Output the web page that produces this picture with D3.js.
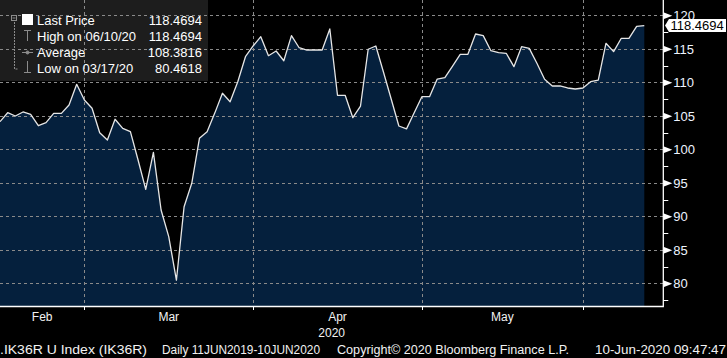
<!DOCTYPE html>
<html><head><meta charset="utf-8">
<script src="https://cdn.jsdelivr.net/npm/d3@7"></script>
<style>html,body{margin:0;padding:0;background:#000;overflow:hidden}svg{display:block}</style>
</head><body>
<script>
// ---- data ----
const startDate = "2020-02-13";
const endDate = "2020-06-10";
const lastPrice = [104.12,105.46,104.97,105.57,105.22,103.52,103.97,105.37,105.37,106.61,109.70,107.36,
  106.12,102.48,101.39,104.48,103.13,102.63,98.40,94.03,99.55,90.94,86.96,80.4618,91.43,94.93,101.64,102.63,105.40,108.36,107.10,110.09,113.82,115.42,
  116.81,113.97,114.67,113.22,116.96,115.16,114.82,114.82,114.82,117.96,108.06,108.06,104.72,106.46,114.93,115.42,111.50,107.50,103.48,103.05,105.45,107.85,
  107.85,110.49,110.69,112.43,114.18,114.18,117.21,116.96,114.72,114.42,114.33,112.33,115.31,115.07,112.84,110.45,109.45,109.45,109.15,109.00,109.15,
  110.09,110.34,115.82,114.57,116.57,116.57,118.35,118.4694];
const monthLabels = ["Feb","Mar","Apr","May"];
const yearLabel = "2020";
const yTicks = [80,85,90,95,100,105,110,115,120];
const yMinorTicks = [77.5,82.5,87.5,92.5,97.5,102.5,107.5,112.5,117.5,122.5];
const legendLabels = ["Last Price","High on 06/10/20","Average","Low on 03/17/20"];
const legendValues = ["118.4694","118.4694","108.3816","80.4618"];
const lastLabel = "118.4694";
const footer = [".IK36R U Index (IK36R)","Daily 11JUN2019-10JUN2020","Copyright\u00A9 2020 Bloomberg Finance L.P.","10-Jun-2020 09:47:47"];

// ---- layout ----
const W = 727, H = 358;
const plotR = 663.3, plotB = 306;
const FONT = "'Liberation Sans', Arial, sans-serif";

const parse = d3.utcParse("%Y-%m-%d");
const dates = d3.utcDay.range(parse(startDate), d3.utcDay.offset(parse(endDate), 1))
  .filter(d => d.getUTCDay() !== 0 && d.getUTCDay() !== 6);
const data = dates.map((d, i) => ({date: d, i, v: lastPrice[i]}));

const x = d3.scaleLinear().domain([0, data.length - 1]).range([0, 644.3]);
const y = d3.scaleLinear().domain([80, 120]).range([283.3, 15.3]);

// month-end boundaries (last weekday of each month)
const bounds = [];
for (let i = 0; i < data.length - 1; i++) {
  if (dates[i].getUTCMonth() !== dates[i + 1].getUTCMonth()) bounds.push(i);
}

const svg = d3.select("body").append("svg").attr("width", W).attr("height", H);
svg.append("rect").attr("width", W).attr("height", H).attr("fill", "#000");

// legend box (under gridlines)
svg.append("rect").attr("x", 0).attr("y", 0).attr("width", 208).attr("height", 81)
  .attr("fill", "#1d1d1d");

// area
const area = d3.area().x(d => x(d.i)).y0(plotB).y1(d => y(d.v));
svg.append("path").datum(data).attr("d", area).attr("fill", "#05203d");

// gridlines
const grid = svg.append("g").attr("stroke", "#8a8a8a").attr("stroke-width", 1).attr("stroke-dasharray", "3,3");
grid.selectAll("line.h").data(yTicks).join("line")
  .attr("x1", 0).attr("x2", plotR).attr("y1", d => Math.round(y(d)) + 0.5).attr("y2", d => Math.round(y(d)) + 0.5);
grid.selectAll("line.v").data(bounds).join("line")
  .attr("y1", 0).attr("y2", plotB).attr("x1", d => Math.round(x(d)) + 0.5).attr("x2", d => Math.round(x(d)) + 0.5);

// line
const line = d3.line().x(d => x(d.i)).y(d => y(d.v));
svg.append("path").datum(data).attr("d", line).attr("fill", "none")
  .attr("stroke", "#e6e6e6").attr("stroke-width", 1.3).attr("stroke-linejoin", "round");

// axes lines
svg.append("path").attr("d", `M0,${plotB + 0.5}H${plotR}V0`).attr("fill", "none")
  .attr("stroke", "#fff").attr("stroke-width", 1.3);

// right axis
const yAxis = d3.axisRight(y).tickValues(yTicks).tickSize(0).tickPadding(10);
const ya = svg.append("g").attr("transform", `translate(${plotR},0)`).call(yAxis);
ya.select(".domain").remove();
ya.selectAll("text").attr("fill", "#eef4ff").attr("font-family", FONT).attr("font-size", 13).attr("dy", "0.36em");
ya.selectAll(".tick").append("path").attr("d", "M0,-3.5L9,0L0,3.5Z").attr("fill", "#fff");
svg.append("g").selectAll("line").data(yMinorTicks).join("line")
  .attr("x1", plotR).attr("x2", plotR + 5)
  .attr("y1", d => Math.round(y(d)) + 0.5).attr("y2", d => Math.round(y(d)) + 0.5)
  .attr("stroke", "#fff").attr("stroke-width", 1);

// bottom ticks at month boundaries
svg.append("g").selectAll("line").data(bounds).join("line")
  .attr("x1", d => Math.round(x(d)) + 0.5).attr("x2", d => Math.round(x(d)) + 0.5)
  .attr("y1", plotB).attr("y2", plotB + 4).attr("stroke", "#fff");

// month labels centred between boundaries
const edges = [0].concat(bounds.map(b => x(b)));
svg.append("g").selectAll("text").data(monthLabels).join("text")
  .attr("x", (d, k) => (edges[k] + edges[k + 1]) / 2).attr("y", 321)
  .attr("text-anchor", "middle").attr("fill", "#f2f2f2")
  .attr("font-family", FONT).attr("font-size", 12).text(d => d);
svg.append("text").attr("x", plotR / 2).attr("y", 336.5).attr("text-anchor", "middle")
  .attr("fill", "#f2f2f2").attr("font-family", FONT).attr("font-size", 12).text(yearLabel);

// last price tag
const ly = y(lastPrice[lastPrice.length - 1]);
svg.append("path").attr("d", `M665,${ly}L669,${ly - 6.5}H726V${ly + 6.5}H669Z`).attr("fill", "#fff");
svg.append("text").attr("x", 670.5).attr("y", ly).attr("dy", "0.36em").attr("fill", "#000")
  .attr("font-family", FONT).attr("font-size", 13).text(lastLabel);

// legend
const lg = svg.append("g");
const rowsY = [25, 41, 57, 73];
lg.selectAll("text.l").data(legendLabels).join("text")
  .attr("x", 37).attr("y", (d, k) => rowsY[k]).attr("fill", "#fff")
  .attr("font-family", FONT).attr("font-size", 13).text(d => d);
lg.selectAll("text.v").data(legendValues).join("text")
  .attr("x", 202).attr("y", (d, k) => rowsY[k]).attr("text-anchor", "end").attr("fill", "#fff")
  .attr("font-family", FONT).attr("font-size", 13).text(d => d);
// tree icons
const ic = lg.append("g").attr("stroke", "#8c8c8c").attr("fill", "none").attr("stroke-width", 1);
ic.append("rect").attr("x", 11.5).attr("y", 15.5).attr("width", 5).attr("height", 5);
ic.append("line").attr("x1", 12.5).attr("x2", 15.5).attr("y1", 18).attr("y2", 18);
ic.append("path").attr("d", "M14.5,22V69H18").attr("stroke-dasharray", "2,1");
ic.append("path").attr("d", "M24,30.5H31M27.5,30.5V41");
ic.append("path").attr("d", "M22,52.5H33");
ic.append("circle").attr("cx", 27.5).attr("cy", 52.5).attr("r", 1.5).attr("fill", "#8c8c8c");
ic.append("path").attr("d", "M27.5,61V72.5M24,72.5H31");
lg.append("rect").attr("x", 22).attr("y", 14).attr("width", 11).attr("height", 11).attr("fill", "#fff");

// footer
const fx = [0, 162, 337, 595], fw = [147, 158, 232, 131];
svg.append("g").selectAll("text").data(footer).join("text")
  .attr("x", (d, k) => fx[k]).attr("y", 354).attr("fill", "#f2f2f2")
  .attr("font-family", FONT).attr("font-size", 12)
  .attr("textLength", (d, k) => fw[k]).attr("lengthAdjust", "spacingAndGlyphs").text(d => d);
</script>
</body></html>
